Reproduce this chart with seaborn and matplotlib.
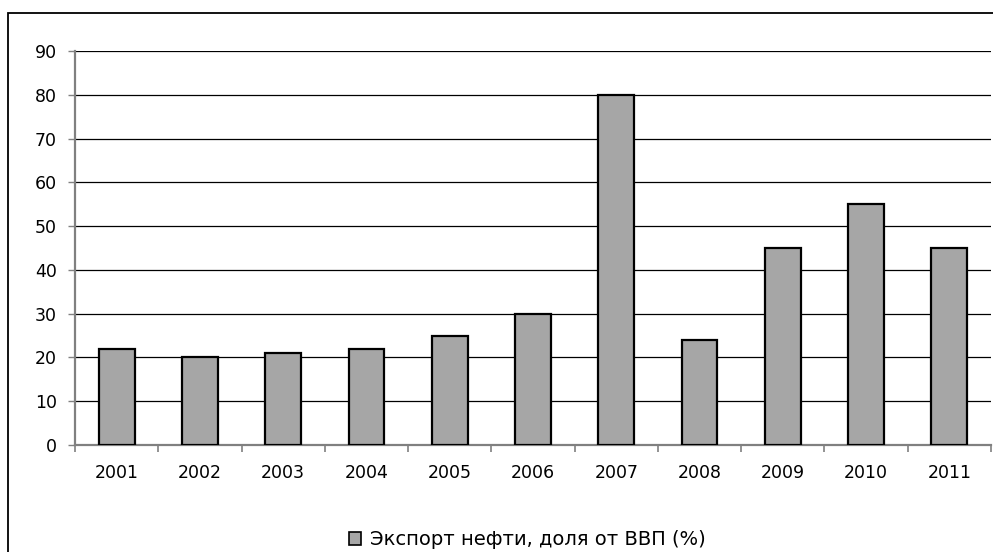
import matplotlib

matplotlib.use("Agg")
import matplotlib.pyplot as plt
from matplotlib.patches import Rectangle, Patch
from matplotlib.ticker import FixedLocator
import seaborn as sns
import pandas as pd

# Data
years = ["2001", "2002", "2003", "2004", "2005", "2006",
         "2007", "2008", "2009", "2010", "2011"]
export_share = [22, 20, 21, 22, 25, 30, 80, 24, 45, 55, 45]
series_label = "Экспорт нефти, доля от ВВП (%)"

df = pd.DataFrame({"year": years, "value": export_share})

sns.set_style("white")
plt.rcParams["font.family"] = ["DejaVu Sans"]
plt.rcParams["text.color"] = "black"
plt.rcParams["xtick.labelcolor"] = "black"
plt.rcParams["ytick.labelcolor"] = "black"

fig = plt.figure(figsize=(9.93, 5.52), dpi=100)
ax = fig.add_axes([75 / 993, 1 - 445 / 552, 916 / 993, 394 / 552])

bar_color = "#a6a6a6"
sns.barplot(data=df, x="year", y="value", color=bar_color, width=0.43,
            edgecolor="black", linewidth=1.6, saturation=1, ax=ax, zorder=3)

# Axes styling (Excel look)
ax.set_ylim(0, 90)
ax.set_xlim(-0.5, len(years) - 0.5)
ax.set_yticks(range(0, 91, 10))
ax.yaxis.grid(True, color="black", linewidth=0.9, zorder=0)
ax.set_axisbelow(True)
ax.set_xlabel("")
ax.set_ylabel("")

for side in ["top", "right"]:
    ax.spines[side].set_visible(False)
for side in ["left", "bottom"]:
    ax.spines[side].set_color("#808080")
    ax.spines[side].set_linewidth(1.6)

ax.tick_params(axis="y", left=True, length=5, width=1.0, color="#808080",
               labelsize=12.5, pad=8, labelcolor="black")
ax.tick_params(axis="x", which="major", bottom=False, length=0,
               labelsize=12.5, pad=14, labelcolor="black")
ax.xaxis.set_minor_locator(FixedLocator([i - 0.5 for i in range(len(years) + 1)]))
ax.tick_params(axis="x", which="minor", bottom=True, length=5, width=1.2,
               color="#808080")

# Legend under the plot
handle = Patch(facecolor=bar_color, edgecolor="black", linewidth=1.2)
fig.legend([handle], [series_label], loc="center", bbox_to_anchor=(0.531, 0.022),
           frameon=False, fontsize=14, handlelength=0.62, handleheight=0.62,
           handletextpad=0.45, labelcolor="black")

# Outer chart frame (cropped on the right and bottom)
fig.patches.append(Rectangle((8 / 993, -0.1), 1.2, 1 - 13 / 552 + 0.1,
                             transform=fig.transFigure, fill=False,
                             edgecolor="black", linewidth=1.3))

fig.savefig("out.png", dpi=100)
plt.close(fig)
